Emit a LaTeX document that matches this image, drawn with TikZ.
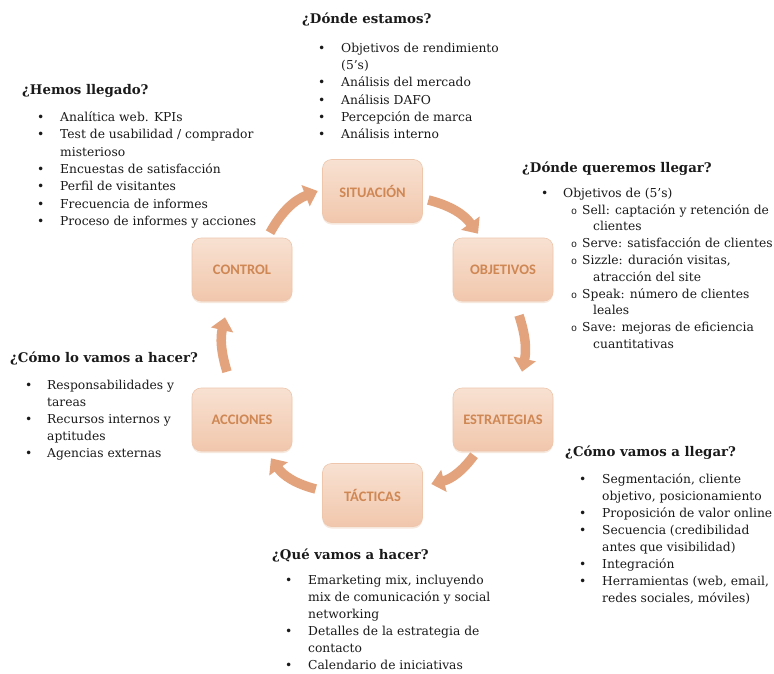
\documentclass[tikz,border=0pt]{standalone}
\usepackage{fontspec}
\setmainfont{DejaVu Serif}
\newfontfamily\boxfont{Carlito}
\newfontfamily\monofont{Liberation Mono}
\usetikzlibrary{arrows.meta,shadows}
\definecolor{boxtop}{HTML}{F8E1D2}
\definecolor{boxbot}{HTML}{F1C7AC}
\definecolor{boxedge}{HTML}{EDC6AC}
\definecolor{boxtext}{HTML}{CF8753}
\definecolor{arrowc}{HTML}{E3A47D}
\definecolor{txt}{HTML}{1A1A1A}
\newcommand{\bul}{\makebox[23pt][l]{\textbullet}}
\newcommand{\bulb}{\makebox[22pt][l]{\textbullet}}
\newcommand{\cnt}{\hspace*{23pt}}
\newcommand{\subo}{\hspace*{30pt}\makebox[11pt][l]{\monofont\fontsize{10}{10}\selectfont o}}
\newcommand{\subc}{\hspace*{52pt}}
\begin{document}
\begin{tikzpicture}[x=1pt,y=-1pt,
  stage/.style={rounded corners=9pt, minimum width=100pt, minimum height=63pt,
    top color=boxtop, bottom color=boxbot, draw=boxedge, line width=0.6pt,
    font=\boxfont\bfseries\fontsize{14.5}{16}\selectfont, text=boxtext,
    drop shadow={shadow xshift=0pt, shadow yshift=-2pt, opacity=0.25, fill=arrowc}},
  cyc/.style={draw=arrowc, line width=9.5pt, -{Triangle[length=13pt,width=22pt]}},
  head/.style={anchor=base west, inner sep=0pt, text=txt, font=\bfseries\fontsize{13.3}{17}\selectfont},
  blk/.style={anchor=base west, inner sep=0pt, align=left, text=txt, font=\fontsize{12.3}{17.2}\selectfont}]
\useasboundingbox (0,0) rectangle (774,673);
\fill[white] (0,0) rectangle (774,673);

% stages
\node[stage] (sit) at (372.5,191) {SITUACIÓN};
\node[stage] (obj) at (503,269.5) {OBJETIVOS};
\node[stage] (est) at (503,419.5) {ESTRATEGIAS};
\node[stage] (tac) at (372.5,495) {TÁCTICAS};
\node[stage] (acc) at (242,419.5) {ACCIONES};
\node[stage] (con) at (242,269.5) {CONTROL};

% cycle arrows
\coordinate (a1s) at ([shift={(5.5,9)}]sit.east);
\coordinate (a1e) at ([shift={(-25,-4)}]obj.north);
\coordinate (a2s) at ([shift={(16,14)}]obj.south);
\coordinate (a2e) at ([shift={(19,-16)}]est.north);
\coordinate (a3s) at ([shift={(-29,4)}]est.south);
\coordinate (a3e) at ([shift={(8.5,-11)}]tac.east);
\coordinate (a4s) at ([shift={(-6.5,-6)}]tac.west);
\coordinate (a4e) at ([shift={(29,7)}]acc.south);
\coordinate (a5s) at ([shift={(-15,-16)}]acc.north);
\coordinate (a5e) at ([shift={(-17,16)}]con.south);
\coordinate (a6s) at ([shift={(28,-5)}]con.north);
\coordinate (a6e) at ([shift={(-4.5,0)}]sit.west);
\draw[cyc] (a1s) to[bend left=20] (a1e);
\draw[cyc] (a2s) to[bend left=15] (a2e);
\draw[cyc] (a3s) to[bend left=20] (a3e);
\draw[cyc] (a4s) to[bend left=20] (a4e);
\draw[cyc] (a5s) to[bend left=15] (a5e);
\draw[cyc] (a6s) to[bend left=20] (a6e);

% text blocks (anchored at the baseline of their last line)
\node[head] (h1) at (302,23.5) {¿Dónde estamos?};
\node[blk] (l1) at (318,138.5) {\bul Objetivos de rendimiento\\ \cnt (5’s)\\ \bul Análisis del mercado\\ \bul Análisis DAFO\\ \bul Percepción de marca\\ \bul Análisis interno};

\node[head] (h2) at (22,94.5) {¿Hemos llegado?};
\node[blk, font=\fontsize{12.3}{17.33}\selectfont] (l2) at (37,225.5) {\bul Analítica web. KPIs\\ \bul Test de usabilidad / comprador\\ \cnt misterioso\\ \bul Encuestas de satisfacción\\ \bul Perfil de visitantes\\ \bul Frecuencia de informes\\ \bul Proceso de informes y acciones};

\node[head] (h3) at (522,172.5) {¿Dónde queremos llegar?};
\node[blk, font=\fontsize{12.3}{16.8}\selectfont] (l3) at (541,348.5) {\bulb Objetivos de (5’s)\\ \subo Sell: captación y retención de\\ \subc clientes\\ \subo Serve: satisfacción de clientes\\ \subo Sizzle: duración visitas,\\ \subc atracción del site\\ \subo Speak: número de clientes\\ \subc leales\\ \subo Save: mejoras de eficiencia\\ \subc cuantitativas};

\node[head] (h4) at (10,362.5) {¿Cómo lo vamos a hacer?};
\node[blk, font=\fontsize{12.3}{17}\selectfont] (l4) at (25,457.5) {\bulb Responsabilidades y\\ \hspace*{22pt}tareas\\ \bulb Recursos internos y\\ \hspace*{22pt}aptitudes\\ \bulb Agencias externas};

\node[head] (h5) at (565,456.5) {¿Cómo vamos a llegar?};
\node[blk, font=\fontsize{12.3}{17}\selectfont] (l5) at (579,602.5) {\bul Segmentación, cliente\\ \cnt objetivo, posicionamiento\\ \bul Proposición de valor online\\ \bul Secuencia (credibilidad\\ \cnt antes que visibilidad)\\ \bul Integración\\ \bul Herramientas (web, email,\\ \cnt redes sociales, móviles)};

\node[head] (h6) at (272,559.5) {¿Qué vamos a hacer?};
\node[blk, font=\fontsize{12.3}{17}\selectfont] (l6) at (285,669.5) {\bul Emarketing mix, incluyendo\\ \cnt mix de comunicación y social\\ \cnt networking\\ \bul Detalles de la estrategia de\\ \cnt contacto\\ \bul Calendario de iniciativas};
\end{tikzpicture}
\end{document}
